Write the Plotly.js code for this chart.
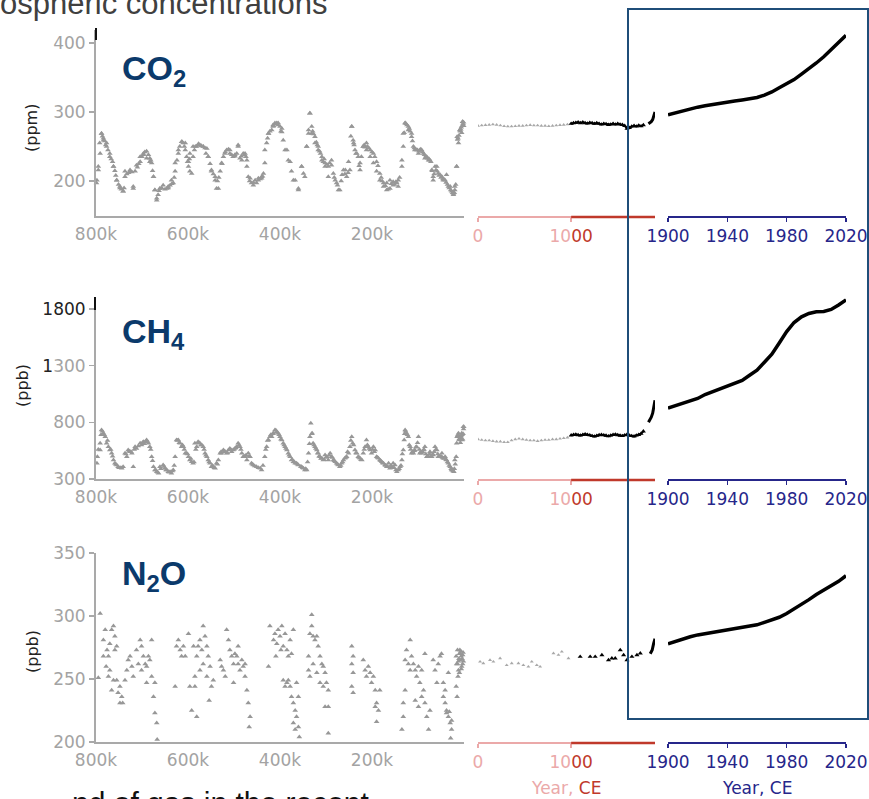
<!DOCTYPE html>
<html><head><meta charset="utf-8">
<script src="https://cdn.plot.ly/plotly-3.0.1.min.js"></script>
<style>html,body{margin:0;padding:0;background:#fff;} #chart{width:869px;height:799px;}</style>
</head><body><div id="chart"></div>
<script>
// ---------- DATA ----------
// Paleo records: [age in kyr before present, concentration]
const co2PaleoA = [
[798,201],[795,216],[791,240],[788,269],[784,262],[777,255],[770,240],[762,221],[755,201],[748,190],
[741,185],[737,206],[726,214],[719,192],[715,214],[704,228],[697,238],[690,243],[683,233],[679,226],
[675,206],[672,187],[668,172],[661,189],[646,189],[639,194],[632,197],[628,214],[621,240],[613,257],
[606,255],[603,235],[599,221],[596,240],[592,211],[589,235],[581,250],[574,252],[567,250],[559,247],
[556,235],[549,214],[541,206],[538,189],[530,214],[523,235],[516,245],[509,240],[502,235],[494,240],
[491,252],[487,233],[480,240],[472,230],[469,206],[462,197],[454,201],[447,201],[440,204],[436,211],
[433,226],[429,255],[425,269],[418,274],[411,284],[404,281],[396,276],[393,259],[385,245],[378,228],
[371,201],[360,187],[353,221],[349,211],[342,250],[338,269],[335,298],[331,279],[324,264],[317,250],
[309,235],[302,226],[295,221],[288,230],[284,211],[277,197],[270,187],[262,216],[255,206],[248,216],
[244,279],[241,259],[237,245],[230,235],[226,216],[219,250],[212,255],[204,245],[197,240],[190,228],
[183,211],[175,197],[168,187],[161,201],[154,194],[146,197],[143,192],[135,221],[132,250],[128,284],
[121,279],[114,269],[110,250],[103,245],[96,245],[88,240],[81,235],[74,230],[67,201],[63,221],
[56,211],[48,206],[41,201],[34,192],[27,185],[23,180],[20,187],[16,221],[15,264],[9,274],[3,286]];
const co2PaleoB = [
[799,197],[795,221],[788,269],[784,259],[777,250],[770,235],[762,221],[755,201],[748,192],[741,185],
[737,214],[726,216],[719,189],[712,223],[704,235],[697,240],[690,233],[683,228],[675,206],[672,187],
[668,175],[661,189],[654,194],[643,192],[636,201],[628,226],[621,245],[614,257],[606,245],[599,228],
[596,214],[589,250],[578,252],[567,250],[556,235],[549,216],[541,201],[534,189],[527,226],[520,240],
[509,245],[498,238],[491,250],[483,230],[476,240],[472,221],[465,204],[458,194],[447,204],[440,206],
[433,245],[425,269],[415,281],[407,284],[415,279],[404,284],[396,271],[389,245],[382,230],[375,214],
[367,201],[360,189],[353,221],[346,206],[342,250],[338,274],[335,298],[331,269],[324,255],[317,245],
[309,230],[302,221],[295,206],[288,223],[280,201],[273,187],[265,209],[258,216],[251,228],[244,279],
[240,255],[233,240],[226,226],[219,250],[212,245],[204,235],[197,226],[190,214],[183,201],[175,192],
[168,197],[161,189],[154,199],[143,201],[135,230],[132,269],[128,284],[121,274],[114,264],[107,245],
[99,240],[92,245],[85,233],[77,230],[70,216],[67,206],[59,221],[52,209],[45,201],[38,209],
[30,192],[23,182],[20,192],[16,221],[12,255],[9,274],[3,286]];
const co2PaleoC = [
[792,255],[786,265],[781,258],[779,252],[774,245],[767,232],[764,228],[759,215],[757,208],[751,195],
[745,188],[739,190],[733,210],[729,212],[722,213],[710,220],[707,225],[700,235],[694,242],[686,238],
[681,230],[677,215],[665,180],[663,186],[657,190],[650,188],[643,190],[635,196],[630,205],[624,230],
[618,250],[611,255],[608,250],[601,228],[597,232],[586,245],[584,250],[577,254],[571,251],[563,248],
[561,240],[552,225],[545,210],[536,200],[533,205],[526,225],[519,242],[512,246],[505,238],[498,236],
[484,236],[477,238],[474,235],[466,200],[458,198],[451,197],[443,203],[438,207],[427,262],[422,272],
[414,280],[408,283],[400,279],[398,272],[329,272],[327,268],[321,256],[319,252],[314,243],[312,240],
[306,228],[304,232],[298,224],[292,226],[282,205],[275,194],[267,200],[259,210],[252,212],[246,265],
[239,252],[235,240],[228,222],[223,235],[217,252],[215,249],[210,250],[207,248],[200,242],[194,235],
[187,222],[180,205],[178,200],[171,193],[165,188],[158,196],[151,195],[148,199],[140,205],[130,270],
[126,283],[124,281],[119,276],[117,272],[112,258],[108,248],[105,246],[101,245],[98,243],[94,246],
[90,242],[86,238],[83,236],[79,233],[76,232],[72,228],[69,215],[65,210],[61,216],[58,214],
[54,208],[50,205],[46,203],[43,202],[39,198],[36,195],[32,190],[29,187],[25,183],[21,183],
[18,195],[14,260],[13,262],[11,266],[8,272],[7,275],[6,278],[5,270],[4,280],[2,283],[1,285],[0.5,280]];
const ch4PaleoA = [
[798,438],[791,615],[788,732],[780,673],[773,585],[766,527],[759,438],[752,408],[741,408],[737,527],
[730,556],[722,527],[719,408],[715,585],[704,615],[697,629],[690,644],[683,585],[679,497],[675,408],
[668,364],[661,408],[654,423],[646,379],[639,364],[632,379],[628,497],[625,644],[617,615],[610,585],
[603,527],[596,468],[589,438],[581,585],[574,615],[567,585],[559,497],[552,438],[545,408],[538,438],
[530,527],[523,556],[516,527],[509,570],[502,556],[494,585],[491,615],[483,527],[476,497],[469,527],
[462,438],[451,408],[440,379],[433,497],[425,644],[418,673],[411,732],[404,703],[396,644],[389,585],
[382,527],[375,468],[367,438],[360,423],[353,408],[346,379],[338,527],[335,673],[333,791],[328,615],
[320,556],[313,497],[306,468],[298,497],[291,527],[284,468],[277,438],[270,408],[262,468],[255,497],
[248,585],[244,673],[237,556],[230,497],[222,468],[215,585],[212,644],[204,556],[197,585],[190,497],
[183,468],[175,438],[168,408],[161,394],[154,438],[146,364],[139,408],[132,556],[128,732],[121,673],
[114,527],[107,556],[99,673],[92,527],[85,585],[77,497],[70,497],[63,585],[56,497],[48,527],
[41,497],[34,438],[27,379],[22,364],[17,497],[15,673],[10,644],[5,703],[1.5,761]];
const ch4PaleoB = [
[797,497],[791,556],[784,703],[777,615],[770,556],[762,468],[755,423],[744,394],[733,497],[726,541],
[712,570],[701,600],[693,629],[686,615],[672,379],[664,350],[650,394],[643,364],[636,350],[621,644],
[614,585],[606,527],[599,497],[592,453],[585,615],[578,629],[570,600],[563,527],[556,468],[549,408],
[541,394],[534,468],[527,527],[519,541],[512,556],[505,541],[498,570],[487,585],[480,497],[472,468],
[465,497],[458,423],[443,394],[429,585],[422,673],[414,703],[407,717],[400,673],[393,615],[385,556],
[378,497],[371,453],[364,438],[349,394],[342,379],[330,703],[324,585],[317,527],[309,482],[302,512],
[295,468],[288,497],[280,453],[273,423],[266,438],[259,482],[251,527],[242,615],[233,527],[226,482],
[219,527],[208,585],[201,527],[193,556],[186,482],[179,453],[172,423],[164,438],[157,408],[150,423],
[143,379],[135,468],[130,644],[125,703],[117,585],[110,527],[103,585],[96,527],[88,556],[81,497],
[74,541],[67,512],[59,556],[52,497],[45,482],[38,468],[30,408],[25,379],[20,468],[16,615],
[12,703],[9,673],[4,644]];
const ch4PaleoC = [
[795,560],[789,690],[786,720],[782,690],[775,640],[768,560],[764,500],[757,430],[750,400],[746,400],
[735,520],[728,545],[724,540],[717,560],[708,590],[699,620],[695,610],[688,630],[681,560],[677,460],
[670,380],[666,360],[659,390],[652,410],[648,380],[641,360],[634,370],[630,420],[623,640],[619,620],
[612,600],[608,560],[601,520],[594,480],[587,450],[583,560],[576,620],[572,600],[565,560],[561,510],
[554,450],[547,420],[543,400],[536,430],[528,540],[521,545],[514,530],[507,560],[500,560],[496,575],
[489,600],[485,560],[478,500],[474,510],[467,500],[460,430],[455,415],[447,400],[437,420],[431,560],
[427,640],[420,690],[416,700],[409,730],[402,690],[398,650],[391,600],[387,570],[380,510],[373,470],
[369,450],[362,430],[355,410],[351,400],[344,390],[340,450],[336,610],[331,700],[326,600],[322,570],
[318,530],[315,500],[311,480],[304,470],[300,490],[293,510],[286,490],[282,460],[275,430],[268,420],
[264,450],[257,490],[253,540],[246,640],[240,600],[235,530],[228,490],[224,470],[217,560],[210,600],
[206,570],[199,560],[195,540],[188,490],[181,460],[177,440],[170,420],[166,410],[159,420],[152,400],
[148,380],[141,390],[137,420],[134,520],[129,700],[127,720],[123,690],[119,600],[116,560],[112,540],
[108,550],[105,580],[101,620],[97,560],[94,540],[90,540],[87,560],[83,520],[79,500],[75,520],
[72,500],[68,520],[65,540],[61,560],[57,520],[54,500],[50,500],[47,490],[43,480],[39,470],
[36,450],[32,420],[28,390],[24,370],[21,390],[19,430],[14,680],[13,690],[11,650],[8,620],
[7,660],[6,680],[4,690],[3,650],[2,700],[1,740],[0.5,760]];
const n2oPaleo = [
[791,302],[795,251],[784,281],[780,289],[776,273],[773,268],[770,278],[766,289],[762,292],[759,284],
[770,257],[773,252],[762,249],[755,249],[752,239],[748,231],[742,231],[759,273],[784,268],[778,260],
[766,241],[755,276],[748,244],[744,236],
[737,249],[733,257],[730,265],[726,268],[722,260],[719,252],[712,273],[704,281],[701,276],[697,268],
[693,262],[690,260],[686,268],[683,265],[679,252],[675,236],[672,247],[679,281],[690,247],[672,223],
[668,215],[667,202],[708,262],[701,257],
[628,244],[625,276],[621,281],[617,273],[614,268],[610,276],[606,268],[599,286],[592,225],[588,276],
[585,244],[581,220],[581,268],[578,276],[574,281],[570,273],[567,292],[563,284],[559,276],[556,268],
[552,260],[549,244],[545,249],[554,233],[574,257],[585,252],[596,244],[567,262],[559,252],
[530,265],[527,260],[523,257],[519,252],[516,289],[512,281],[509,273],[505,268],[501,262],[498,270],
[494,268],[491,262],[487,257],[483,265],[480,260],[476,252],[472,241],[469,231],[467,212],[465,220],
[501,247],[491,276],[476,262],
[425,260],[422,292],[414,281],[411,286],[407,278],[404,289],[400,284],[396,292],[393,276],[389,286],
[385,273],[382,268],[378,281],[375,270],[371,289],[393,249],[389,244],[385,247],[382,249],[378,244],
[375,236],[371,231],[367,225],[371,215],[364,220],[367,210],[360,212],[358,204],[360,236],[364,247],
[409,268],[398,273],
[331,301],[335,286],[331,292],[328,284],[324,281],[320,284],[317,276],[313,268],[309,262],[306,260],
[302,255],[299,247],[295,241],[338,268],[338,257],[335,252],[328,262],[320,255],[313,247],[306,244],
[295,228],[302,228],[295,207],
[244,276],[244,262],[241,268],[241,255],[244,244],[241,239],[219,265],[215,257],[212,252],[208,260],
[204,255],[201,247],[197,252],[193,241],[190,231],[186,225],[190,216],[183,241],[193,228],
[135,210],[132,231],[132,220],[128,241],[128,265],[125,273],[121,262],[117,257],[114,268],[110,262],
[106,257],[103,252],[99,260],[96,247],[92,236],[88,241],[85,270],[85,231],[81,220],[77,210],
[74,225],[106,233],[99,228],[92,257],[117,281],
[67,265],[63,257],[59,247],[56,262],[52,268],[49,270],[45,247],[45,236],[41,231],[38,225],
[34,220],[30,215],[27,217],[34,255],[27,210],[29,203],[41,241],[38,223],[32,224],
[17,268],[16,262],[14,273],[12,257],[10,270],[9,265],[7,272],[5,260],[3,269],[1.4,264],
[17,244],[15,236],[13,252],[9,273],[4,266],[12,264],[8,270],[6,268],[11,266],[2,271],
[14,262],[6,258],[3,262],[10,255]];

// Common Era (0-1900 CE)
const ceGrayYears = [0,40,80,120,160,200,240,280,320,360,400,440,480,520,560,600,640,680,720,760,800,840,880,920,960];
const co2CeGray = [280,280.5,281,281.5,282,281.5,280.5,279.5,279,279,279.5,280,280,280.5,281,280.5,280.5,280,280,279.5,280,280.5,281,281.5,282];
const ch4CeGray = [650,645,640,640,635,630,630,625,625,640,650,655,650,645,640,640,635,640,645,645,650,650,655,660,665];
const ceBlackYears = [1000,1025,1050,1075,1100,1125,1150,1175,1200,1225,1250,1275,1300,1325,1350,1375,1400,1425,1450,1475,1500,1525,1550,1575,1600,1625,1650,1675,1700,1725,1750,1775];
const co2CeBlack = [283,284,284.5,285,284,285,284,283.5,284.5,284,283,284,283,282,283,282.5,281.5,282,283,282,283,282,281.5,280,276,277,279,280,279,280.5,279.5,281];
const ch4CeBlack = [685,690,692,688,684,690,695,690,686,680,675,682,688,690,686,683,678,684,690,693,688,683,680,686,692,684,680,676,684,690,700,720];
const indYears = [1830,1845,1860,1875,1890,1900];
const co2Ind = [283,284.5,286,289,294,300];
const ch4Ind = [800,820,845,880,935,995];
const n2oCeGrayYears = [22,57,129,165,237,308,362,434,487,541,577,631,667,810,864,900,971];
const n2oCeGray = [263.7,262.5,265,263.7,266.4,261,262.5,262.5,261,259.8,263.7,261,259.8,270.4,269.1,271.7,266.4];
const n2oCeBlackYears = [1097,1204,1258,1330,1401,1437,1473,1527,1563,1599,1652,1706,1742];
const n2oCeBlack = [267.7,267.7,267.7,269,265,266.4,266.4,273,269,265,267.7,269,270.4];
const n2oIndYears = [1849,1870,1885,1900];
const n2oInd = [270,273,278,282];

// Modern (1900-2020)
const modYears = [1900,1905,1910,1915,1920,1925,1930,1935,1940,1945,1950,1955,1960,1965,1970,1975,1980,1985,1990,1995,2000,2005,2010,2015,2020];
const co2Mod = [296,299,302,304.5,307,309,311,313,314.5,316,317.5,319,321,324.5,329,335,341,347,355,362.5,371,380,390,400.5,411];
const ch4Mod = [925,945,965,985,1010,1045,1070,1100,1125,1145,1170,1215,1260,1330,1400,1500,1600,1680,1730,1760,1775,1777,1795,1835,1880];
const n2oMod = [278,280,282,283.5,285,286,287,288,289,289.5,290.5,291.5,293,295,297,299,302,305.5,309.5,313,317,320.5,324,327.5,332];

// Axis ticks
const paleoTickVals = [800,600,400,200];
const paleoTickText = ['800k','600k','400k','200k'];
const ceTickVals = [0,1000];
const modTickVals = [1900,1940,1980,2020];
const co2TickVals = [200,300,400];
const ch4TickVals = [300,800,1300,1800];
const n2oTickVals = [200,250,300,350];

// ---------- LAYOUT HELPERS ----------
const W=869, H=799;
const fx = p => p/W, fy = p => 1 - p/H;
const GRAY='#979797', AXG='#a9a9a9', PINK='#eba9a9', RED='#c0392b', NAVY='#26268a', BOX='#1f4e79', LBL='#0b3a6b';
const TF = {family:'DejaVu Sans, sans-serif', size:17, color:'#a3a3a3'};
const an = i => i===1 ? '' : String(i);

const rows = [
  {top:30, bottom:216, range:[149.3,418.8], tv:co2TickVals, tt:['200','300','400'],
   paleo:[co2PaleoA,co2PaleoB,co2PaleoC], ceGray:co2CeGray, ceBlack:co2CeBlack, ind:co2Ind, mod:co2Mod},
  {top:297, bottom:479, range:[300,1905], tv:ch4TickVals,
   tt:['300','800','<span style="color:#222">1</span>300','<span style="color:#222">1800</span>'],
   paleo:[ch4PaleoA,ch4PaleoB,ch4PaleoC], ceGray:ch4CeGray, ceBlack:ch4CeBlack, ind:ch4Ind, mod:ch4Mod},
  {top:553, bottom:742, range:[200,350], tv:n2oTickVals, tt:['200','250','300','350'],
   paleo:[n2oPaleo], mod:n2oMod}
];

const traces = [];
const layout = {
  width:W, height:H, margin:{l:0,r:0,t:0,b:0}, showlegend:false,
  paper_bgcolor:'#fff', plot_bgcolor:'rgba(0,0,0,0)',
  shapes:[], annotations:[]
};

rows.forEach((r,k) => {
  const p = 3*k+1, c = 3*k+2, m = 3*k+3;
  const yd = [fy(r.bottom), fy(r.top)];
  r.paleo.forEach(arr => traces.push({type:'scatter', mode:'markers', x:arr.map(d=>d[0]), y:arr.map(d=>d[1]),
    xaxis:'x'+an(p), yaxis:'y'+an(p), marker:{symbol:'triangle-up', size:5, color:GRAY}, hoverinfo:'skip', cliponaxis:false}));
  if (k < 2) {
    traces.push({type:'scatter', mode:'markers', x:ceGrayYears, y:r.ceGray, xaxis:'x'+an(c), yaxis:'y'+an(c),
      marker:{symbol:'triangle-up', size:3.5, color:'#a8a8a8'}, hoverinfo:'skip'});
    traces.push({type:'scatter', mode:'lines+markers', x:ceBlackYears, y:r.ceBlack, xaxis:'x'+an(c), yaxis:'y'+an(c),
      line:{color:'#000', width:2}, marker:{symbol:'triangle-up', size:4.5, color:'#000'}, hoverinfo:'skip'});
    traces.push({type:'scatter', mode:'lines', x:indYears, y:r.ind, xaxis:'x'+an(c), yaxis:'y'+an(c),
      line:{color:'#000', width:3}, hoverinfo:'skip'});
  } else {
    traces.push({type:'scatter', mode:'markers', x:n2oCeGrayYears, y:n2oCeGray, xaxis:'x'+an(c), yaxis:'y'+an(c),
      marker:{symbol:'triangle-up', size:3.5, color:'#a8a8a8'}, hoverinfo:'skip'});
    traces.push({type:'scatter', mode:'markers', x:n2oCeBlackYears, y:n2oCeBlack, xaxis:'x'+an(c), yaxis:'y'+an(c),
      marker:{symbol:'triangle-up', size:4.5, color:'#000'}, hoverinfo:'skip'});
    traces.push({type:'scatter', mode:'lines', x:n2oIndYears, y:n2oInd, xaxis:'x'+an(c), yaxis:'y'+an(c),
      line:{color:'#000', width:3}, hoverinfo:'skip'});
  }
  traces.push({type:'scatter', mode:'lines', x:modYears, y:r.mod, xaxis:'x'+an(m), yaxis:'y'+an(m),
    line:{color:'#000', width:3.5}, hoverinfo:'skip'});

  layout['xaxis'+an(p)] = {domain:[fx(96),fx(464)], range:[800,0], anchor:'y'+an(p), showline:true, linecolor:AXG, linewidth:2,
    ticks:'', tickvals:paleoTickVals, ticktext:paleoTickText, tickfont:TF, ticklabelstandoff:2, showgrid:false, zeroline:false};
  layout['yaxis'+an(p)] = {domain:yd, range:r.range, anchor:'x'+an(p), showline:true, linecolor:AXG, linewidth:2,
    ticks:'outside', ticklen:5, tickwidth:1.5, tickcolor:AXG, tickvals:r.tv, ticktext:r.tt, tickfont:TF, showgrid:false, zeroline:false};
  layout['xaxis'+an(c)] = {domain:[fx(478),fx(655)], range:[0,1900], anchor:'y'+an(c), showline:true, linecolor:PINK, linewidth:2,
    ticks:'outside', ticklen:4, tickwidth:1.5, tickcolor:PINK, tickvals:ceTickVals,
    ticktext:['0','<span style="color:'+PINK+'">10</span><span style="color:'+RED+'">00</span>'],
    tickfont:Object.assign({},TF,{color:PINK}), showgrid:false, zeroline:false};
  layout['yaxis'+an(c)] = {domain:yd, range:r.range, anchor:'x'+an(c), visible:false};
  layout['xaxis'+an(m)] = {domain:[fx(668),fx(846)], range:[1900,2020], anchor:'y'+an(m), showline:true, linecolor:NAVY, linewidth:2,
    ticks:'outside', ticklen:4, tickwidth:1.5, tickcolor:NAVY, tickvals:modTickVals,
    tickfont:Object.assign({},TF,{color:NAVY}), showgrid:false, zeroline:false};
  layout['yaxis'+an(m)] = {domain:yd, range:r.range, anchor:'x'+an(m), visible:false};

  layout.shapes.push({type:'line', xref:'x'+an(c), yref:'paper', x0:1000, x1:1900, y0:fy(r.bottom+1), y1:fy(r.bottom+1),
    line:{color:RED, width:2.5}, layer:'above'});
});

layout.shapes.push({type:'line', xref:'paper', yref:'paper', x0:fx(96), x1:fx(96), y0:fy(40), y1:fy(28), line:{color:'#111', width:2}});
layout.shapes.push({type:'line', xref:'paper', yref:'paper', x0:fx(95), x1:fx(95), y0:fy(310), y1:fy(297), line:{color:'#111', width:2}});
layout.shapes.push({type:'rect', xref:'paper', yref:'paper', x0:fx(628), x1:fx(868), y0:fy(719), y1:fy(9),
  line:{color:BOX, width:2}, fillcolor:'rgba(0,0,0,0)', layer:'above'});

const A = layout.annotations;
const addA = o => A.push(Object.assign({xref:'paper', yref:'paper', showarrow:false, xanchor:'center', yanchor:'middle'}, o));
const GF = {family:'Liberation Sans, Arial, sans-serif', size:34, color:LBL};
addA({text:'<b>CO<sub>2</sub></b>', x:fx(120), y:fy(47), xanchor:'left', yanchor:'top', font:GF});
addA({text:'<b>CH<sub>4</sub></b>', x:fx(120), y:fy(310), xanchor:'left', yanchor:'top', font:GF});
addA({text:'<b>N<sub>2</sub>O</b>', x:fx(120), y:fy(552), xanchor:'left', yanchor:'top', font:GF});
const UF = {family:'DejaVu Sans, sans-serif', size:16, color:'#222'};
addA({text:'(ppm)', x:fx(32), y:fy(128), textangle:-90, font:UF});
addA({text:'(ppb)', x:fx(22), y:fy(386), textangle:-90, font:UF});
addA({text:'(ppb)', x:fx(32), y:fy(652), textangle:-90, font:UF});
const XF = {family:'DejaVu Sans, sans-serif', size:17};
addA({text:'<span style="color:'+PINK+'">Year, </span><span style="color:'+RED+'">CE</span>', x:fx(566), y:fy(788), font:XF});
addA({text:'Year, CE', x:fx(757), y:fy(788), font:Object.assign({},XF,{color:NAVY})});
addA({text:'ospheric concentrations', x:fx(-2), y:fy(23), xanchor:'left', yanchor:'bottom',
  font:{family:'Liberation Sans, Arial, sans-serif', size:31, color:'#404040'}});
addA({text:'nd of gas in the recent', x:fx(70), y:fy(784), xanchor:'left', yanchor:'top',
  font:{family:'Liberation Sans, Arial, sans-serif', size:30, color:'#111'}});

Plotly.newPlot('chart', traces, layout, {staticPlot:true, displayModeBar:false});
</script>
</body></html>
